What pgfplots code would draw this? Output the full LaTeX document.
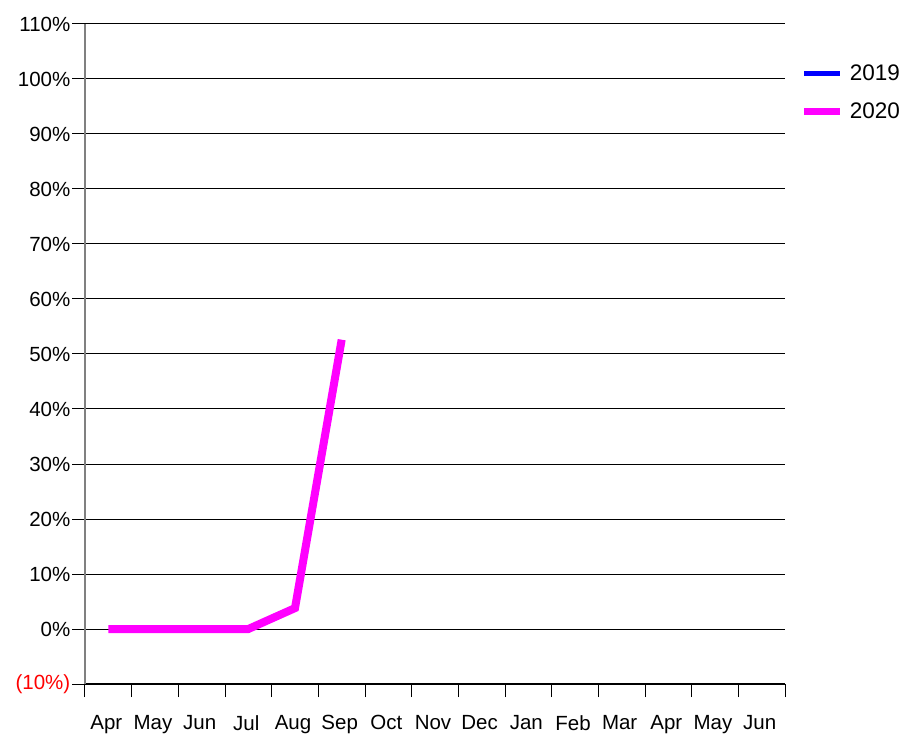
\documentclass[border=0pt]{standalone}
\usepackage{pgfplots}
\pgfplotsset{compat=1.18}
\usepackage{fontspec}
\setmainfont{Liberation Sans}
\definecolor{mag}{RGB}{255,0,255}
\definecolor{blu}{RGB}{0,0,255}
\begin{document}
\begin{tikzpicture}
\begin{axis}[
  at={(0,0)}, anchor=south west,
  scale only axis, width=700pt, height=660pt,
  xmin=0, xmax=15, ymin=-10, ymax=110,
  axis x line=bottom, axis y line=left,
  axis line style={-},
  y axis line style={draw=gray, line width=1.5pt},
  x axis line style={draw=black, line width=1.5pt},
  xtick={0,...,15},
  xticklabels={Apr,May,Jun,Jul,Aug,Sep,Oct,Nov,Dec,Jan,Feb,Mar,Apr,May,Jun},
  x tick label as interval,
  ytick={-10,0,10,...,110},
  yticklabels={\textcolor{red}{(10\%)},0\%,10\%,20\%,30\%,40\%,50\%,60\%,70\%,80\%,90\%,100\%,110\%},
  tick align=outside,
  major tick length=13pt,
  tick style={black, line width=1pt},
  ymajorgrids,
  grid style={black, line width=1pt},
  ticklabel style={font=\fontsize{20.5}{24}\selectfont},
  yticklabel style={inner sep=1.5pt},
  xticklabel style={yshift=-15pt, xshift=-2pt},
  legend style={draw=none, fill=none, at={(rel axis cs:1.0225,0.942)}, anchor=north west,
    font=\fontsize{22.5}{27}\selectfont, row sep=17pt, inner sep=0pt},
  legend cell align=left,
  legend image code/.code={\draw[#1] (0pt,0pt) -- (36pt,0pt); \path (40pt,0pt);},
  clip=false,
]
\addlegendimage{blu, line width=5pt}
\addlegendentry{2019}
\addplot[mag, line width=8pt, line join=miter, forget plot] coordinates {
  (0.5,0) (1.5,0) (2.5,0) (3.5,0) (4.5,3.8) (5.5,52.6)
};
\addlegendimage{mag, line width=7pt}
\addlegendentry{2020}
\end{axis}
\pgfresetboundingbox
\useasboundingbox (-85pt,-50pt) rectangle (817pt,684pt);
\end{tikzpicture}
\end{document}
